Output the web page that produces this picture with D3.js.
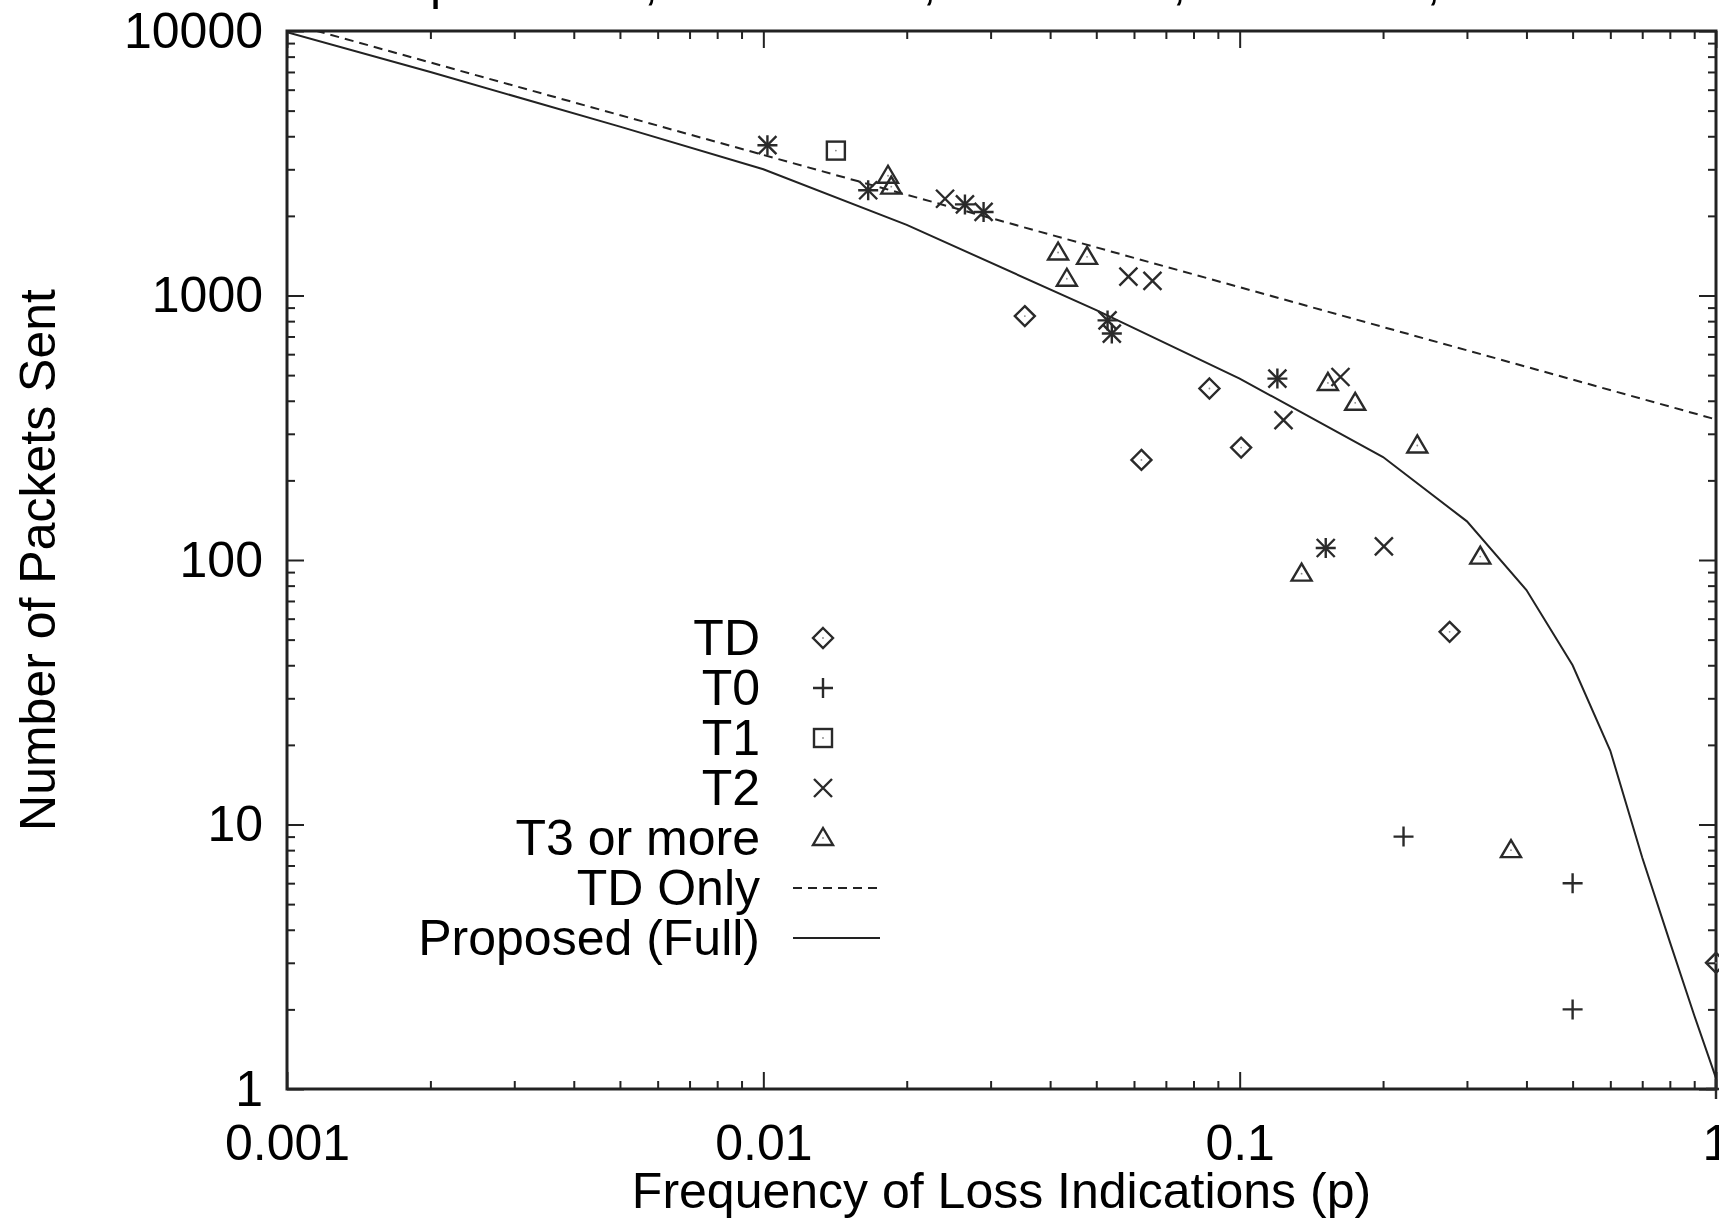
<!DOCTYPE html>
<html>
<head>
<meta charset="utf-8">
<script src="https://cdn.jsdelivr.net/npm/d3@7"></script>
<style>
  body { margin: 0; background: #fff; }
  svg text { font-family: "Liberation Sans", Arial, sans-serif; fill: #000; }
</style>
</head>
<body>
<svg id="chart" width="1719" height="1219"></svg>
<script>
// points: p = loss frequency, n = packets sent
const tdP = [0.0354, 0.0622, 0.0864, 0.1007, 0.2759, 1];
const tdN = [836, 239, 445, 266, 53.5, 3];
const t0P = [0.0102, 0.0166, 0.0265, 0.029, 0.0528, 0.0539, 0.12, 0.1516, 0.2208, 0.5, 0.5, 1];
const t0N = [3700, 2500, 2210, 2070, 805, 718, 485, 111, 9, 6, 2, 1];
const t1P = [0.0142];
const t1N = [3530];
const t2P = [0.0102, 0.0166, 0.02407, 0.0265, 0.029, 0.0528, 0.0539, 0.0584, 0.0656, 0.12, 0.1236, 0.1516, 0.1628, 0.2008];
const t2N = [3700, 2500, 2322, 2210, 2070, 805, 718, 1179, 1135, 485, 338, 111, 492, 112.6];
const t3P = [0.01827, 0.01856, 0.04157, 0.04337, 0.04782, 0.1349, 0.1532, 0.1748, 0.236, 0.32, 0.3712];
const t3N = [2836, 2579, 1454, 1157, 1400, 88.8, 467, 393, 271, 103, 8];

// model curves
const tdOnlyP = [0.001, 0.01, 0.1, 1];
const tdOnlyN = [10750, 3400, 1075, 340];
const fullP = [0.001, 0.002, 0.005, 0.01, 0.02, 0.05, 0.1, 0.2, 0.3, 0.4, 0.5, 0.6, 0.7, 0.8, 0.9, 1];
const fullN = [9900, 7000, 4350, 3000, 1850, 880, 485, 245, 140, 77, 40, 19, 7.5, 3.6, 1.9, 1.1];

const xTicks = [0.001, 0.01, 0.1, 1];
const yTicks = [1, 10, 100, 1000, 10000];
const legendLabels = ["TD", "T0", "T1", "T2", "T3 or more", "TD Only", "Proposed (Full)"];
const titleText = "pif to void, RTT=0.243, TO=2.495, WMax=12, 1x1hr";

const svg = d3.select("#chart");
const L = 287, R = 1716, T = 31, B = 1089;
const FS = 50;

const x = d3.scaleLog().domain([0.001, 1]).range([L, R]);
const y = d3.scaleLog().domain([1, 10000]).range([B, T]);

// minor ticks 2..9 in every decade
const minorOf = (lo, hi) => {
  const out = [];
  for (let d = lo; d < hi; d *= 10) {
    for (let k = 2; k < 10; k++) out.push(d * k);
  }
  return out;
};
const xMinor = minorOf(0.001, 1);
const yMinor = minorOf(1, 10000);

// title sits above the page edge, only descenders show
svg.append("text")
  .attr("x", 430)
  .attr("y", -1)
  .style("font-size", FS + "px")
  .text(titleText);

const ink = "#222";

const axisG = (axis, tx, ty) => {
  const g = svg.append("g").attr("transform", `translate(${tx},${ty})`).call(axis);
  g.select(".domain").remove();
  g.selectAll(".tick line").attr("stroke", ink).attr("stroke-width", 2);
  return g;
};

// minor ticks on all four sides
axisG(d3.axisBottom(x).tickValues(xMinor).tickSize(-8).tickFormat(""), 0, B);
axisG(d3.axisTop(x).tickValues(xMinor).tickSize(-8).tickFormat(""), 0, T);
axisG(d3.axisLeft(y).tickValues(yMinor).tickSize(-8).tickFormat(""), L, 0);
axisG(d3.axisRight(y).tickValues(yMinor).tickSize(-8).tickFormat(""), R, 0);

// major ticks + labels
const xb = axisG(d3.axisBottom(x).tickValues(xTicks).tickSize(-17).tickPadding(35)
  .tickFormat((d) => String(d)), 0, B);
axisG(d3.axisTop(x).tickValues(xTicks).tickSize(-17).tickFormat(""), 0, T);
const yl = axisG(d3.axisLeft(y).tickValues(yTicks).tickSize(-17).tickPadding(24)
  .tickFormat((d) => String(d)), L, 0);
axisG(d3.axisRight(y).tickValues(yTicks).tickSize(-17).tickFormat(""), R, 0);

[xb, yl].forEach((g) => {
  g.selectAll(".tick text")
    .attr("fill", "#000")
    .style("font-size", FS + "px")
    .style("font-family", '"Liberation Sans", Arial, sans-serif');
});

// frame
svg.append("rect")
  .attr("x", L).attr("y", T)
  .attr("width", R - L).attr("height", B - T)
  .attr("fill", "none")
  .attr("stroke", ink)
  .attr("stroke-width", 3);

// axis titles
svg.append("text")
  .attr("x", (L + R) / 2)
  .attr("y", 1208)
  .attr("text-anchor", "middle")
  .style("font-size", FS + "px")
  .text("Frequency of Loss Indications (p)");

svg.append("text")
  .attr("transform", `translate(55,${(T + B) / 2}) rotate(-90)`)
  .attr("text-anchor", "middle")
  .style("font-size", FS + "px")
  .text("Number of Packets Sent");

// curves
svg.append("clipPath").attr("id", "plotClip")
  .append("rect").attr("x", L).attr("y", T).attr("width", R - L).attr("height", B - T);

const line = d3.line().x((d) => x(d[0])).y((d) => y(d[1]));

svg.append("path")
  .datum(d3.zip(tdOnlyP, tdOnlyN))
  .attr("clip-path", "url(#plotClip)")
  .attr("d", line)
  .attr("fill", "none")
  .attr("stroke", ink)
  .attr("stroke-width", 2)
  .attr("stroke-dasharray", "9,6");

svg.append("path")
  .datum(d3.zip(fullP, fullN))
  .attr("clip-path", "url(#plotClip)")
  .attr("d", line)
  .attr("fill", "none")
  .attr("stroke", ink)
  .attr("stroke-width", 2);

// point symbols, gnuplot style
const mark = "#2a2a2a";
const drawMarker = (g, type, cx, cy) => {
  const s = g.append("g")
    .attr("transform", `translate(${cx},${cy})`)
    .attr("fill", "none")
    .attr("stroke", mark)
    .attr("stroke-width", 2.4);
  if (type === "diamond") {
    s.append("path").attr("d", "M0,-10L10,0L0,10L-10,0Z");
  } else if (type === "plus") {
    s.append("path").attr("d", "M-10,0H10M0,-10V10");
  } else if (type === "square") {
    s.append("rect").attr("x", -9).attr("y", -9).attr("width", 18).attr("height", 18);
  } else if (type === "cross") {
    s.append("path").attr("d", "M-9,-9L9,9M-9,9L9,-9");
  } else if (type === "triangle") {
    s.append("path").attr("d", "M0,-10L10,7L-10,7Z");
  }
  if (type !== "plus" && type !== "cross") {
    s.append("circle").attr("r", 0.9).attr("fill", "#888").attr("stroke", "none");
  }
};

const series = [
  { type: "diamond", p: tdP, n: tdN },
  { type: "plus", p: t0P, n: t0N },
  { type: "square", p: t1P, n: t1N },
  { type: "cross", p: t2P, n: t2N },
  { type: "triangle", p: t3P, n: t3N },
];

const pts = svg.append("g").attr("id", "points");
series.forEach((s) => {
  s.p.forEach((p, i) => drawMarker(pts, s.type, x(p), y(s.n[i])));
});

// legend
const lg = svg.append("g").attr("id", "legend");
legendLabels.forEach((label, i) => {
  const base = 655 + i * 50;
  lg.append("text")
    .attr("x", 760)
    .attr("y", base)
    .attr("text-anchor", "end")
    .style("font-size", FS + "px")
    .text(label);
  const cy = base - 17;
  if (i < series.length) {
    drawMarker(lg, series[i].type, 823, cy);
  } else {
    lg.append("line")
      .attr("x1", 793).attr("x2", 880)
      .attr("y1", cy).attr("y2", cy)
      .attr("stroke", ink)
      .attr("stroke-width", 2)
      .attr("stroke-dasharray", label === "TD Only" ? "9,6" : null);
  }
});
</script>
</body>
</html>
